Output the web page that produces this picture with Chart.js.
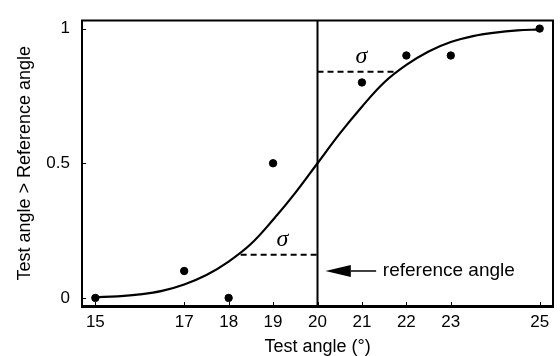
<!DOCTYPE html>
<html>
<head>
<meta charset="utf-8">
<script src="https://cdn.jsdelivr.net/npm/chart.js@4.4.0/dist/chart.umd.min.js"></script>
<style>
  html, body { margin: 0; padding: 0; background: #fff; }
</style>
</head>
<body>
<canvas id="psychometric-chart" width="560" height="356"></canvas>
<script>
// observed proportions
const testAngles = [15, 17, 18, 19, 21, 22, 23, 25];
const proportions = [0, 0.1, 0, 0.5, 0.8, 0.9, 0.9, 1];

// fitted curve
const curveAngles = [15, 15.5, 16, 16.5, 17, 17.5, 18, 18.5, 19, 19.5, 20, 20.5, 21, 21.5, 22, 22.5, 23, 23.5, 24, 24.5, 25];
const curveValues = [0.003, 0.006, 0.013, 0.026, 0.05, 0.085, 0.135, 0.2, 0.29, 0.39, 0.5, 0.61, 0.71, 0.8, 0.865, 0.915, 0.95, 0.972, 0.985, 0.993, 0.997];

// tick labels
const xTicks = [15, 17, 18, 19, 20, 21, 22, 23, 25];
const yTicks = [0, 0.5, 1];

// reference angle and sigma markers
const referenceAngle = 20;
const sigmaLow = [18.27, 0.16];
const sigmaHigh = [21.73, 0.84];

const xMin = 14.7, xMax = 25.3;
const yMin = -0.03, yMax = 1.03;

function toXY(xs, ys) {
    return xs.map((x, i) => ({ x: x, y: ys[i] }));
}

// frame, inner ticks, arrow and labels
const annotatePlugin = {
    id: 'annotate',
    afterDatasetsDraw: function (chart) {
        const ctx = chart.ctx;
        const area = chart.chartArea;
        const xs = chart.scales.x;
        const ys = chart.scales.y;

        ctx.save();
        ctx.strokeStyle = '#000';
        ctx.fillStyle = '#000';

        // inner tick marks
        ctx.lineWidth = 1;
        ctx.beginPath();
        xTicks.forEach(v => {
            const px = Math.round(xs.getPixelForValue(v)) + 0.5;
            ctx.moveTo(px, area.bottom);
            ctx.lineTo(px, area.bottom - 4);
        });
        yTicks.forEach(v => {
            const py = Math.round(ys.getPixelForValue(v)) + 0.5;
            ctx.moveTo(area.left, py);
            ctx.lineTo(area.left + 4, py);
        });
        ctx.stroke();

        // box
        ctx.lineWidth = 2;
        ctx.strokeRect(area.left, area.top, area.right - area.left, area.bottom - area.top);
        ctx.lineWidth = 3;
        ctx.beginPath();
        ctx.moveTo(area.left - 1, area.bottom + 0.5);
        ctx.lineTo(area.right + 1, area.bottom + 0.5);
        ctx.stroke();

        // arrow to the reference line
        const tipX = xs.getPixelForValue(20.18);
        const baseX = xs.getPixelForValue(20.75);
        const tailX = xs.getPixelForValue(21.32);
        const ay = ys.getPixelForValue(0.1);
        ctx.lineWidth = 1.5;
        ctx.beginPath();
        ctx.moveTo(baseX, ay);
        ctx.lineTo(tailX, ay);
        ctx.stroke();
        ctx.beginPath();
        ctx.moveTo(tipX, ay);
        ctx.lineTo(baseX, ay - 6);
        ctx.lineTo(baseX, ay + 6);
        ctx.closePath();
        ctx.fill();

        ctx.font = '19px "Liberation Sans", Arial, sans-serif';
        ctx.textAlign = 'left';
        ctx.textBaseline = 'middle';
        ctx.fillText('reference angle', xs.getPixelForValue(21.47), ay);

        // sigma labels
        ctx.font = 'italic 24px "Liberation Serif", "Times New Roman", serif';
        ctx.textAlign = 'center';
        ctx.fillText('σ', xs.getPixelForValue(20.99), ys.getPixelForValue(0.897));
        ctx.fillText('σ', xs.getPixelForValue(19.21), ys.getPixelForValue(0.216));

        ctx.restore();
    }
};

const ctx = document.getElementById('psychometric-chart');

new Chart(ctx, {
    type: 'scatter',
    data: {
        datasets: [
            {
                // fitted curve
                type: 'line',
                data: toXY(curveAngles, curveValues),
                borderColor: '#000',
                borderWidth: 2.2,
                pointRadius: 0,
                tension: 0.4,
                fill: false
            },
            {
                // reference angle line
                type: 'line',
                data: [{ x: referenceAngle, y: yMin }, { x: referenceAngle, y: yMax }],
                borderColor: '#000',
                borderWidth: 2,
                pointRadius: 0
            },
            {
                type: 'line',
                data: [{ x: referenceAngle, y: sigmaHigh[1] }, { x: sigmaHigh[0], y: sigmaHigh[1] }],
                borderColor: '#000',
                borderWidth: 2,
                borderDash: [6, 4],
                pointRadius: 0
            },
            {
                type: 'line',
                data: [{ x: sigmaLow[0], y: sigmaLow[1] }, { x: referenceAngle, y: sigmaLow[1] }],
                borderColor: '#000',
                borderWidth: 2,
                borderDash: [6, 4],
                pointRadius: 0
            },
            {
                data: toXY(testAngles, proportions),
                backgroundColor: '#000',
                borderColor: '#000',
                pointRadius: 3.7,
                pointHoverRadius: 3.7
            }
        ]
    },
    options: {
        responsive: false,
        animation: false,
        layout: { padding: { top: 14, right: 7, left: 0, bottom: 0 } },
        plugins: {
            legend: { display: false },
            tooltip: { enabled: false }
        },
        scales: {
            x: {
                type: 'linear',
                min: xMin,
                max: xMax,
                afterBuildTicks: function (scale) {
                    scale.ticks = xTicks.map(v => ({ value: v }));
                },
                afterFit: function (scale) {
                    scale.height = 50;
                },
                grid: { display: false, drawTicks: false },
                border: { display: false },
                ticks: {
                    color: '#000',
                    padding: 8,
                    maxRotation: 0,
                    autoSkip: false,
                    font: { family: '"Liberation Sans", Arial, sans-serif', size: 17, lineHeight: 1 }
                },
                title: {
                    display: true,
                    text: 'Test angle (°)',
                    color: '#000',
                    padding: { top: 0, bottom: 0 },
                    font: { family: '"Liberation Sans", Arial, sans-serif', size: 18, lineHeight: 1 }
                }
            },
            y: {
                type: 'linear',
                min: yMin,
                max: yMax,
                afterBuildTicks: function (scale) {
                    scale.ticks = yTicks.map(v => ({ value: v }));
                },
                afterFit: function (scale) {
                    scale.width = 82;
                },
                grid: { display: false, drawTicks: false },
                border: { display: false },
                ticks: {
                    color: '#000',
                    padding: 12,
                    callback: function (value) {
                        return String(value);
                    },
                    font: { family: '"Liberation Sans", Arial, sans-serif', size: 17, lineHeight: 1 }
                },
                title: {
                    display: true,
                    text: 'Test angle > Reference angle',
                    color: '#000',
                    padding: { top: 14, bottom: 0 },
                    font: { family: '"Liberation Sans", Arial, sans-serif', size: 18, lineHeight: 1.2 }
                }
            }
        }
    },
    plugins: [annotatePlugin]
});
</script>
</body>
</html>
